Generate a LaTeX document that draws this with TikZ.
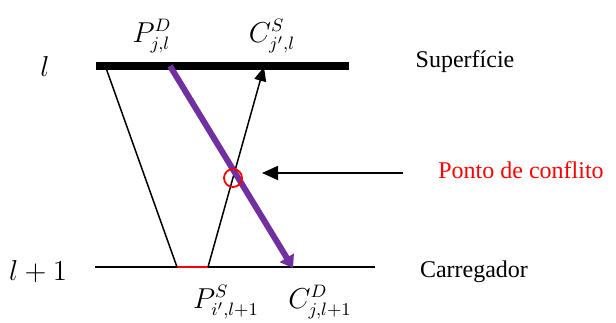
\documentclass[tikz,border=0pt]{standalone}
\usepackage{fontspec}
\setmainfont{Liberation Serif}
\usetikzlibrary{arrows.meta}
\definecolor{violetline}{HTML}{7030A0}
\begin{document}
\begin{tikzpicture}[x=0.5pt,y=-0.5pt,
  lbl/.style={inner sep=0pt,font=\fontsize{12}{14}\selectfont},
  mlbl/.style={inner sep=0pt,font=\fontsize{13.5}{16}\selectfont},
  thin line/.style={line width=0.75pt},
]
\useasboundingbox (0,0) rectangle (616,322);
% coordinates
\coordinate (tl) at (96,66);
\coordinate (tr) at (349,66);
\coordinate (bl) at (95,267);
\coordinate (br) at (375,267);
\coordinate (ra) at (177,267);
\coordinate (rb) at (208,267);
\coordinate (lt) at (106,68);
\coordinate (at) at (264,67);
\coordinate (pt) at (170,66);
\coordinate (pb) at (293,268);
\coordinate (cs) at (403,173);
\coordinate (ce) at (262,173);
% layers
\draw[line width=4pt] (tl) -- (tr);
\draw[thin line] (bl) -- (br);
\draw[red,line width=0.9pt] (ra) -- (rb);
\draw[thin line] (lt) -- (ra);
\draw[thin line,-{Triangle[length=7pt,width=6pt]}] (rb) -- (at);
\draw[violetline,line width=3pt,-{Triangle[length=6pt,width=8pt]}] (pt) -- (pb);
\node[draw=red,line width=0.9pt,circle,minimum size=9pt,inner sep=0pt] (cp) at (233,178) {};
\draw[line width=0.9pt,-{Triangle[length=8pt,width=7pt]}] (cs) -- (ce);
% labels
\node[mlbl] (ll) at (45,66) {$l$};
\node[mlbl] (ll1) at (38,272) {$l+1$};
\node[mlbl] (pd) at (152,36) {$P^{D}_{j,l}$};
\node[mlbl] (csl) at (272,36) {$C^{S}_{j',l}$};
\node[mlbl] (ps) at (226,302) {$P^{S}_{i',l+1}$};
\node[mlbl] (cd) at (320,302) {$C^{D}_{j,l+1}$};
\node[lbl] (sup) at (465,62) {Superfície};
\node[lbl,text=red] (pc) at (521,170) {Ponto de conflito};
\node[lbl] (car) at (474,272) {Carregador};
\end{tikzpicture}
\end{document}
